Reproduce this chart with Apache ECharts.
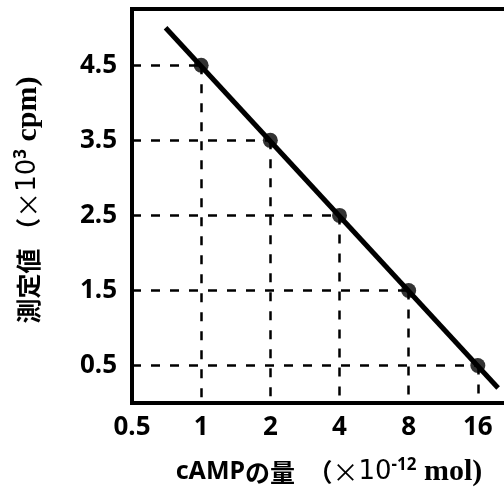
<!DOCTYPE html>
<html>
<head>
<meta charset="utf-8">
<script src="https://cdn.jsdelivr.net/npm/echarts@6/dist/echarts.min.js"></script>
<style>
  html, body { margin: 0; padding: 0; background: #fff; }
  #chart { width: 504px; height: 491px; }
</style>
</head>
<body>
<div id="chart"></div>
<script>
// x: cAMP amount (log2 axis), y: measured value
const xTicks = [0.5, 1, 2, 4, 8, 16];
const yTicks = [0.5, 1.5, 2.5, 3.5, 4.5];
const camp = [1, 2, 4, 8, 16];
const measured = [4.5, 3.5, 2.5, 1.5, 0.5];
// ends of the drawn standard curve
const lineX = [0.7, 19.6];
const lineY = [5.0, 0.2];

const X_MIN = 0.5;
const Y_MIN = 0;

let points = camp.map(function (x, i) { return [x, measured[i]]; });
let fitLine = lineX.map(function (x, i) { return [x, lineY[i]]; });

// dashed guide lines: point -> left axis, point -> bottom axis
let guides = [];
for (let p of points) {
    guides.push([{coord: [X_MIN, p[1]]}, {coord: [p[0], p[1]]}]);
    guides.push([{coord: [p[0], p[1]]}, {coord: [p[0], Y_MIN]}]);
}

let labelFont = {
    color: '#000',
    fontFamily: 'Noto Sans',
    fontWeight: 'bold',
    fontSize: 26
};

let nameRich = {
    a: {fontFamily: 'Noto Sans', fontWeight: 'bold', fontSize: 25, color: '#000'},
    cj: {fontFamily: 'Noto Sans CJK JP', fontWeight: 'bold', fontSize: 25, color: '#000'},
    x: {fontFamily: 'Noto Sans CJK JP', fontSize: 26, color: '#000'},
    n: {fontFamily: 'DejaVu Sans', fontSize: 26, color: '#000'},
    sup: {fontFamily: 'Noto Sans', fontWeight: 'bold', fontSize: 17, color: '#000', verticalAlign: 'top', padding: [0, 0, 10, 0]},
    se: {fontFamily: 'Liberation Serif', fontWeight: 'bold', fontSize: 30, color: '#000'}
};

let myChart = echarts.init(document.getElementById('chart'));
let option = {
    animation: false,
    grid: {
        left: 132,
        top: 9,
        bottom: 88,
        right: -43,
        outerBoundsMode: 'none',
        containLabel: false,
        show: true,
        borderWidth: 4,
        borderColor: '#000'
    },
    xAxis: {
        type: 'log',
        logBase: 2,
        min: 0.5,
        max: 32,
        axisLine: {show: false},
        axisTick: {show: false},
        splitLine: {show: false},
        axisLabel: Object.assign({
            margin: 12,
            formatter: function (v) {
                return xTicks.indexOf(v) >= 0 ? String(v) : '';
            }
        }, labelFont),
        name: '{a|cAMP}{cj|の量　（}{x|×}{n|10}{sup|-12}{se| mol)}',
        nameLocation: 'middle',
        nameGap: 54,
        nameTextStyle: {
            padding: [0, 21, 0, 0],
            rich: nameRich
        }
    },
    yAxis: {
        type: 'value',
        min: 0,
        max: 5.25,
        axisLine: {show: false},
        axisTick: {show: false},
        splitLine: {show: false},
        axisLabel: Object.assign({
            margin: 15,
            customValues: yTicks,
            formatter: function (v) { return v.toFixed(1); }
        }, labelFont),
        name: '{cj|測定値 （}{x|×}{n|10}{sup|3}{se| cpm)}',
        nameLocation: 'middle',
        nameRotate: 90,
        nameGap: 89,
        nameTextStyle: {
            padding: [0, 0, 0, 12],
            rich: nameRich
        }
    },
    series: [
        {
            name: 'line',
            type: 'line',
            data: fitLine,
            symbol: 'none',
            silent: true,
            lineStyle: {color: '#000', width: 5},
            z: 3
        },
        {
            name: 'points',
            type: 'scatter',
            data: points,
            symbol: 'circle',
            symbolSize: 15,
            itemStyle: {color: '#000'},
            z: 4,
            markLine: {
                silent: true,
                symbol: 'none',
                label: {show: false},
                lineStyle: {color: '#000', width: 2.5, type: [9, 10]},
                data: guides
            }
        }
    ]
};
myChart.setOption(option);
</script>
</body>
</html>
